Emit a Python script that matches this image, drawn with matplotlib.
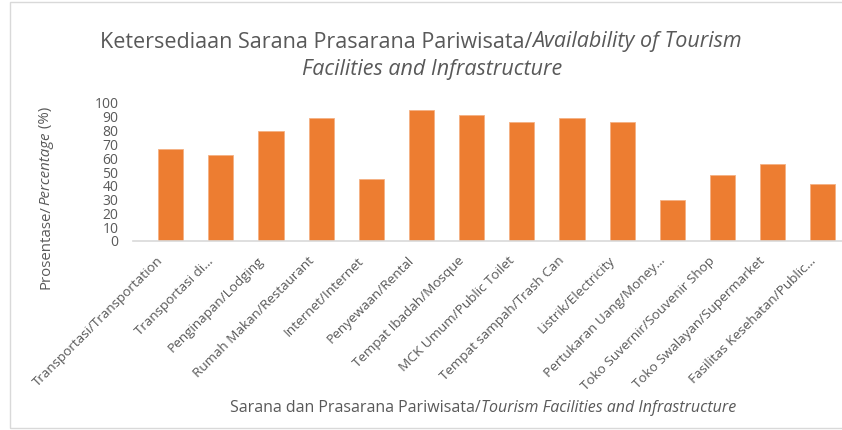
import matplotlib
matplotlib.use("Agg")
import matplotlib.pyplot as plt
import matplotlib.transforms as mtransforms
from matplotlib.patches import Rectangle

plt.rcParams['font.family'] = ['Open Sans', 'DejaVu Sans']

categories = [
    "Transportasi/Transportation",
    "Transportasi di…",
    "Penginapan/Lodging",
    "Rumah Makan/Restaurant",
    "Internet/Internet",
    "Penyewaan/Rental",
    "Tempat Ibadah/Mosque",
    "MCK Umum/Public Toilet",
    "Tempat sampah/Trash Can",
    "Listrik/Electricity",
    "Pertukaran Uang/Money…",
    "Toko Suvernir/Souvenir Shop",
    "Toko Swalayan/Supermarket",
    "Fasilitas Kesehatan/Public…",
]
values = [67, 62.5, 80, 89, 45, 95, 91, 86.5, 89, 86.5, 30, 47.5, 56, 41]
yticks = list(range(0, 101, 10))

GRAY = "#595959"
W, H = 842, 430
fig = plt.figure(figsize=(W / 100, H / 100), dpi=100)

# chart frame
fig.patches.append(Rectangle((10 / W, 2 / H), 1, 426 / H, transform=fig.transFigure,
                             fill=False, edgecolor="#D9D9D9", lw=1))

ax = fig.add_axes([133 / W, (H - 241) / H, 715 / W, 138 / H])
x = range(len(categories))
ax.bar(x, values, width=0.5, color="#ED7D31", edgecolor="#F4B183", linewidth=0.6, zorder=2)
ax.set_xlim(-0.75, 13.5)
ax.set_ylim(0, 100)
ax.set_yticks(yticks)
ax.set_yticklabels([str(v) for v in yticks], fontsize=10, color=GRAY)
ax.set_xticks(list(x))
ax.set_xticklabels(categories, rotation=45, ha="right", rotation_mode="anchor",
                   fontsize=9.7, color=GRAY)
ax.tick_params(axis="both", length=0)
ax.tick_params(axis="y", pad=10.5)
ax.tick_params(axis="x", pad=6)
shift = mtransforms.ScaledTranslation(-0.14, -0.05, fig.dpi_scale_trans)
for lab in ax.get_xticklabels():
    lab.set_transform(lab.get_transform() + shift)
for s in ["top", "right", "left"]:
    ax.spines[s].set_visible(False)
ax.spines["bottom"].set_color("#D9D9D9")
ax.spines["bottom"].set_linewidth(1.2)


def rich_text(px, py, parts, size, rotation=0):
    # draw pieces of text (normal/italic) centred on pixel position (px, py from top)
    renderer = fig.canvas.get_renderer()
    objs = []
    for txt, style in parts:
        t = fig.text(0, 0, txt, fontsize=size, style=style, color=GRAY,
                     ha="left", va="center", rotation_mode="anchor")
        objs.append(t)
    # measure unrotated, then rotate
    widths = [t.get_window_extent(renderer).width for t in objs]
    total = sum(widths)
    pos = -total / 2
    for t, w in zip(objs, widths):
        t.set_rotation(rotation)
        if rotation == 90:
            t.set_position((px / W, (H - py + pos) / H))
        else:
            t.set_position(((px + pos) / W, (H - py) / H))
        pos += w


rich_text(421, 42, [("Ketersediaan Sarana Prasarana Pariwisata/", "normal"),
                    ("Availability of Tourism", "italic")], 15.5)
rich_text(432, 70, [("Facilities and Infrastructure", "italic")], 15.5)
rich_text(46, 198, [("Prosentase/", "normal"), ("Percentage", "italic"),
                    (" (%)", "normal")], 10.8, rotation=90)
rich_text(483, 408, [("Sarana dan Prasarana Pariwisata/", "normal"),
                     ("Tourism Facilities and Infrastructure", "italic")], 11.5)

fig.savefig("out.png", dpi=100)
